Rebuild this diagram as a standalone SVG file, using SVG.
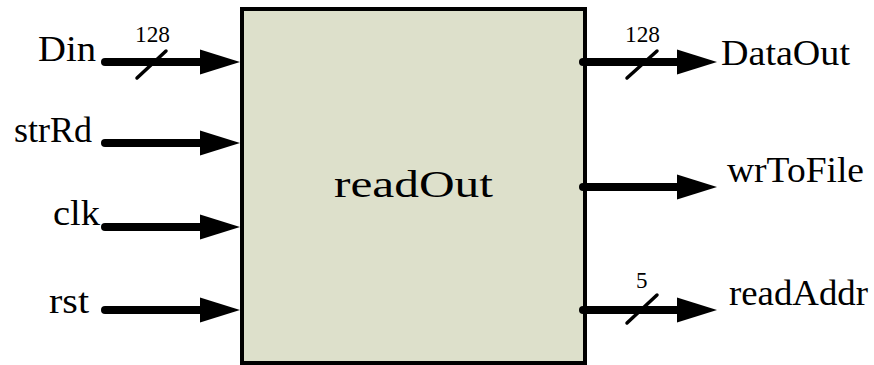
<svg xmlns="http://www.w3.org/2000/svg" width="874" height="365" viewBox="0 0 874 365">
  <style>
    .lbl { font-family: "Liberation Serif", serif; font-size: 36px; fill: #000; }
    .bus { font-family: "Liberation Serif", serif; font-size: 23px; fill: #000; }
    .title { font-family: "Liberation Serif", serif; font-size: 37px; fill: #000; }
    .wire { fill: none; stroke: #000; stroke-width: 8; stroke-linecap: round; marker-end: url(#head); }
    .slash { fill: none; stroke: #000; stroke-width: 3.5; stroke-linecap: round; }
    .block { fill: #dde0cb; stroke: #000; stroke-width: 4; }
  </style>
  <defs>
    <!-- solid arrowhead; tip sits 30px past the end of the wire path -->
    <marker id="head" markerUnits="userSpaceOnUse" markerWidth="40" markerHeight="26" refX="10" refY="13" orient="auto" overflow="visible">
      <path d="M0,0.5 L40,13 L0,25.5 Z" fill="#000"/>
    </marker>
  </defs>

  <rect width="874" height="365" fill="#fff"/>

  <!-- module block -->
  <g id="readOut">
    <rect class="block" x="242" y="9" width="343" height="354"/>
    <text class="title" x="334" y="197" textLength="159" lengthAdjust="spacingAndGlyphs">readOut</text>
  </g>

  <!-- port labels -->
  <g id="port-Din"><text class="lbl" x="38" y="61" textLength="58" lengthAdjust="spacingAndGlyphs">Din</text></g>
  <g id="port-strRd"><text class="lbl" x="14" y="142" textLength="78" lengthAdjust="spacingAndGlyphs">strRd</text></g>
  <g id="port-clk"><text class="lbl" x="53" y="225" textLength="47" lengthAdjust="spacingAndGlyphs">clk</text></g>
  <g id="port-rst"><text class="lbl" x="49" y="313" textLength="40" lengthAdjust="spacingAndGlyphs">rst</text></g>
  <g id="port-DataOut"><text class="lbl" x="721" y="65" textLength="129" lengthAdjust="spacingAndGlyphs">DataOut</text></g>
  <g id="port-wrToFile"><text class="lbl" x="727" y="182" textLength="137" lengthAdjust="spacingAndGlyphs">wrToFile</text></g>
  <g id="port-readAddr"><text class="lbl" x="729" y="305" textLength="139" lengthAdjust="spacingAndGlyphs">readAddr</text></g>

  <!-- signal wires -->
  <g id="connectors">
    <path class="wire" d="M105,62 H210"/>
    <path class="wire" d="M105,143 H210"/>
    <path class="wire" d="M105,227 H210"/>
    <path class="wire" d="M105,310 H210"/>
    <path class="wire" d="M583,62 H687"/>
    <path class="wire" d="M583,187 H687"/>
    <path class="wire" d="M583,310 H687"/>

    <!-- bus width marks -->
    <line class="slash" x1="137" y1="78" x2="166" y2="51"/>
    <text class="bus" x="135" y="42" textLength="35" lengthAdjust="spacingAndGlyphs">128</text>
    <line class="slash" x1="627" y1="78" x2="657" y2="51"/>
    <text class="bus" x="625" y="42" textLength="35" lengthAdjust="spacingAndGlyphs">128</text>
    <line class="slash" x1="627" y1="323" x2="657" y2="295"/>
    <text class="bus" x="636" y="288">5</text>
  </g>
</svg>
